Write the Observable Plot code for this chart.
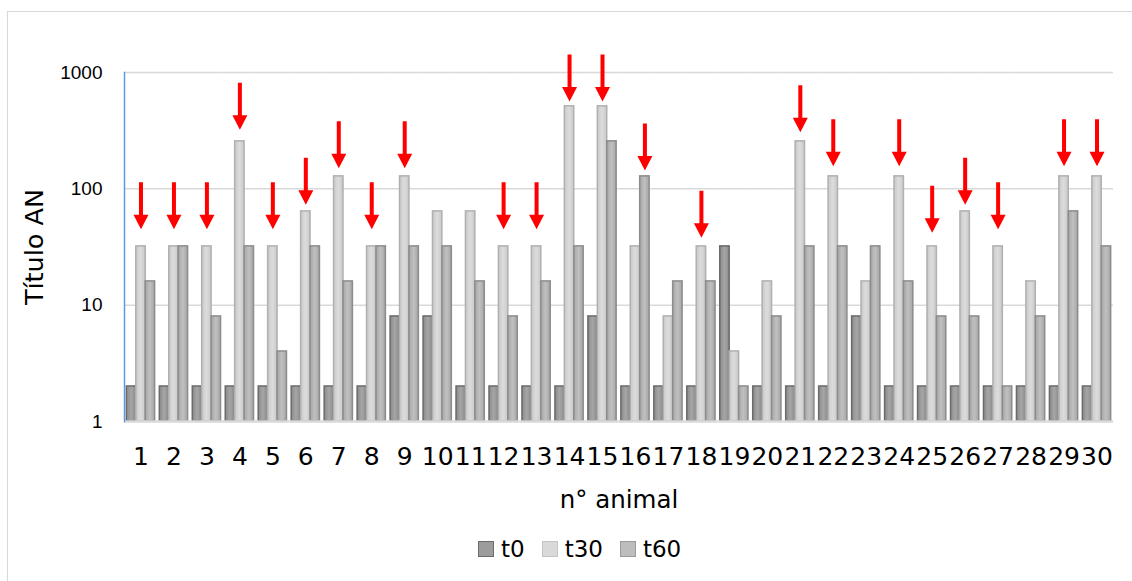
<!DOCTYPE html>
<html>
<head>
<meta charset="utf-8">
<script src="https://cdn.jsdelivr.net/npm/d3@7"></script>
<script src="https://cdn.jsdelivr.net/npm/@observablehq/plot@0.6"></script>
<style>
  html, body { margin: 0; padding: 0; background: #fff; overflow: hidden; }
  body { width: 1132px; height: 581px; position: relative; font-family: "Liberation Sans", Arial, sans-serif; }
  #chart { position: absolute; left: 0; top: 0; }
  #border { position: absolute; left: 7px; top: 11px; width: 1300px; height: 800px; border: 1.5px solid #d9d9d9; box-sizing: border-box; pointer-events: none; z-index: 2; }
  #legend { position: absolute; top: 536px; left: 478px; display: flex; align-items: center; font-family: "DejaVu Sans", sans-serif; font-size: 23px; color: #000; }
  #legend .item { display: flex; align-items: center; margin-right: 17px; }
  #legend .sw { width: 14px; height: 14px; border: 1.5px solid; margin-right: 7px; }
  g[aria-label="y-axis tick label"] { font-size: 19px; }
  g[aria-label="y-axis label"] { font-size: 25.5px; font-family: "DejaVu Sans", sans-serif; }
  g[aria-label="fx-axis tick label"] { font-size: 25px; font-family: "DejaVu Sans", sans-serif; }
  g[aria-label="fx-axis label"] { font-size: 24.5px; font-family: "DejaVu Sans", sans-serif; }
</style>
</head>
<body>
<svg width="0" height="0" style="position:absolute">
  <defs>
    <linearGradient id="g-t0" x1="0" x2="1" y1="0" y2="0">
      <stop offset="0" stop-color="#8a8a8a"/><stop offset="0.5" stop-color="#a6a6a6"/><stop offset="1" stop-color="#8a8a8a"/>
    </linearGradient>
    <linearGradient id="g-t30" x1="0" x2="1" y1="0" y2="0">
      <stop offset="0" stop-color="#c9c9c9"/><stop offset="0.5" stop-color="#dcdcdc"/><stop offset="1" stop-color="#c9c9c9"/>
    </linearGradient>
    <linearGradient id="g-t60" x1="0" x2="1" y1="0" y2="0">
      <stop offset="0" stop-color="#a6a6a6"/><stop offset="0.5" stop-color="#c0c0c0"/><stop offset="1" stop-color="#a6a6a6"/>
    </linearGradient>
  </defs>
</svg>
<div id="chart"></div>
<div id="border"></div>
<div id="legend"></div>
<script>
// ---- data ----
const animals = [1,2,3,4,5,6,7,8,9,10,11,12,13,14,15,16,17,18,19,20,21,22,23,24,25,26,27,28,29,30];
const series = ["t0", "t30", "t60"];
const t0  = [2,2,2,2,2,2,2,2,8,8,2,2,2,2,8,2,2,2,32,2,2,2,8,2,2,2,2,2,2,2];
const t30 = [32,32,32,256,32,64,128,32,128,64,64,32,32,512,512,32,8,32,4,16,256,128,16,128,32,64,32,16,128,128];
const t60 = [16,32,8,32,4,32,16,32,32,32,16,8,16,32,256,128,16,16,2,8,32,32,32,16,8,8,2,8,64,32];
const yTicks = [1, 10, 100, 1000];
// red arrows: animal, bar they point at, value of the arrow tip
const arrowAnimals = [1,2,3,4,5,6,7,8,9,12,13,14,15,16,18,21,22,24,25,26,27,29,30];
const arrowSeries  = ["t30","t30","t30","t30","t30","t30","t30","t30","t30","t30","t30","t30","t30","t60","t30","t30","t30","t30","t30","t30","t30","t30","t30"];
const arrowTips    = [45,45,45,322,45,73,150,45,150,45,45,563,563,144,38,307,156,156,42,73,45,156,156];

const valuesBySeries = {t0, t30, t60};
const rows = series.flatMap(s => animals.map((a, i) => ({animal: a, series: s, value: valuesBySeries[s][i]})));
const arrows = arrowAnimals.map((a, i) => ({animal: a, series: arrowSeries[i], tip: arrowTips[i]}));

const fills = {t0: "url(#g-t0)", t30: "url(#g-t30)", t60: "url(#g-t60)"};
const strokes = {t0: "#6b6b6b", t30: "#b0b0b0", t60: "#8c8c8c"};
const legendFill = {t0: "#9c9c9c", t30: "#d9d9d9", t60: "#bdbdbd"};
const legendStroke = {t0: "#6b6b6b", t30: "#c4c4c4", t60: "#9a9a9a"};

const arrowShape = {
  draw(context, l) {
    const head = 14.5, hw = 7.5, sw = 2;
    context.moveTo(-sw, 0);
    context.lineTo(-sw, -(l - head));
    context.lineTo(-hw, -(l - head));
    context.lineTo(0, -l);
    context.lineTo(hw, -(l - head));
    context.lineTo(sw, -(l - head));
    context.lineTo(sw, 0);
    context.closePath();
  }
};

const chart = Plot.plot({
  width: 1132,
  height: 525,
  marginLeft: 124,
  marginRight: 19,
  marginTop: 72,
  marginBottom: 104,
  style: {fontFamily: "'Liberation Sans', Arial, sans-serif", color: "#000", background: "transparent"},
  fx: {domain: animals, padding: 0, round: false},
  x: {domain: series, paddingInner: 0, paddingOuter: 0.25, round: false, axis: null},
  y: {type: "log", domain: [1, 1000]},
  marks: [
    Plot.gridY(yTicks.slice(1), {stroke: "#d9d9d9", strokeOpacity: 1, strokeWidth: 1.5}),
    ...series.map(s => Plot.barY(rows, {
      filter: d => d.series === s,
      fx: "animal", x: "series", y1: 1, y2: "value",
      fill: fills[s], stroke: strokes[s], strokeWidth: 1.5
    })),
    Plot.ruleY([1], {stroke: "#d9d9d9", strokeWidth: 2.5}),
    Plot.frame({anchor: "left", stroke: "#5b9bd5", strokeWidth: 1.5, facetAnchor: "left"}),
    Plot.vector(arrows, {
      fx: "animal", x: "series", y: "tip",
      rotate: 180, length: 47, anchor: "end", shape: arrowShape,
      fill: "#ff0000", stroke: "none"
    }),
    Plot.axisY({ticks: yTicks, tickFormat: d => String(d), tickSize: 0, tickPadding: 22,
      label: "Título AN", labelAnchor: "center", labelOffset: 100, labelArrow: "none"}),
    Plot.axisFx({anchor: "bottom", tickSize: 0, tickPadding: 26,
      label: "n° animal", labelAnchor: "center", labelOffset: 86, labelArrow: "none"})
  ]
});
document.getElementById("chart").appendChild(chart);

const legend = document.getElementById("legend");
for (const s of series) {
  const item = document.createElement("div");
  item.className = "item";
  const sw = document.createElement("div");
  sw.className = "sw";
  sw.style.background = legendFill[s];
  sw.style.borderColor = legendStroke[s];
  const label = document.createElement("span");
  label.textContent = s;
  item.appendChild(sw);
  item.appendChild(label);
  legend.appendChild(item);
}
</script>
</body>
</html>
